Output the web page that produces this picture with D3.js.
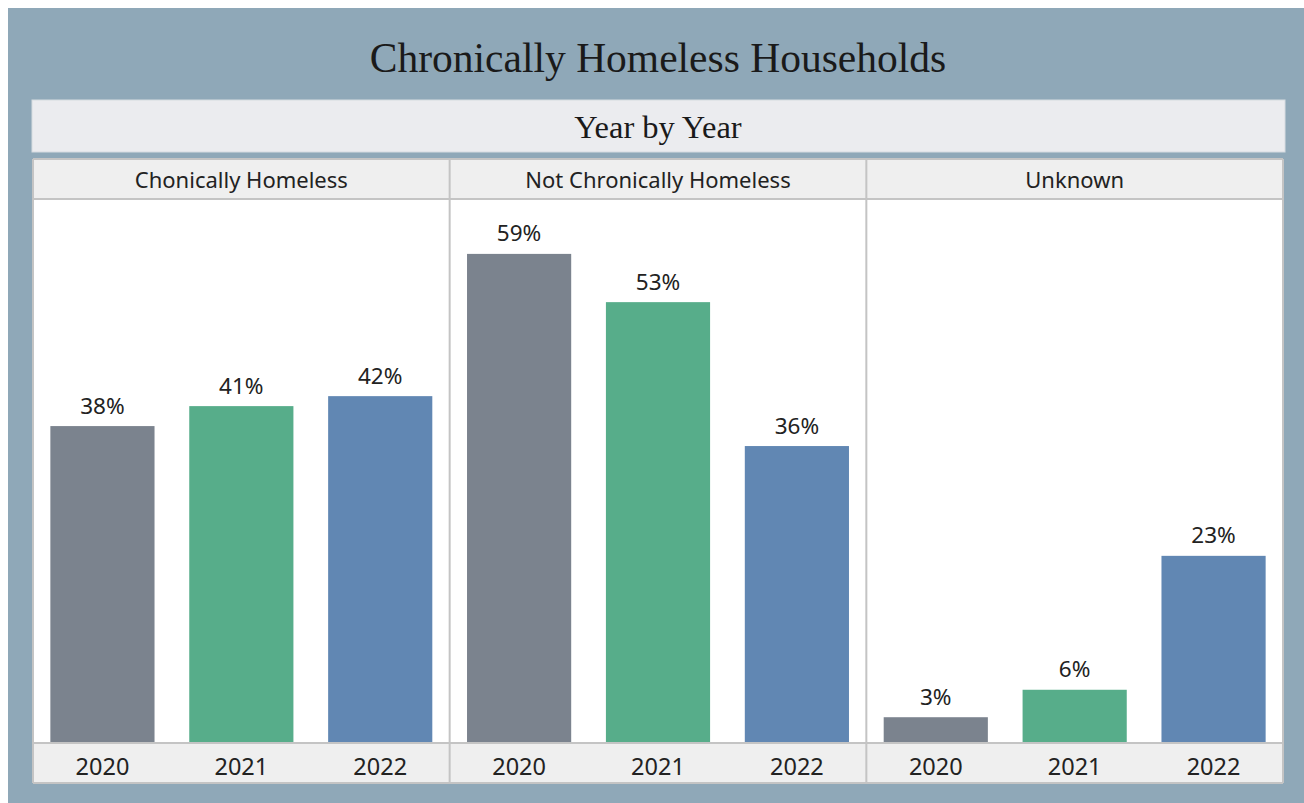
<!DOCTYPE html>
<html>
<head>
<meta charset="utf-8">
<script src="https://cdn.jsdelivr.net/npm/d3@7"></script>
<style>
  body { margin: 0; background: #fff; }
  svg { display: block; }
</style>
</head>
<body>
<svg width="1304" height="803"></svg>
<script>
var title = "Chronically Homeless Households";
var subtitle = "Year by Year";
var groups = ["Chonically Homeless", "Not Chronically Homeless", "Unknown"];
var years = ["2020", "2021", "2022"];
var colors = ["#7b838e", "#57ad8a", "#6187b3"];

// share of households per group, one array per year (percent)
var values2020 = [38.1, 58.8, 3.1];
var values2021 = [40.5, 53.0, 6.4];
var values2022 = [41.7, 35.7, 22.5];

var data = [];
groups.forEach(function(g, i) {
    data.push({group: g, year: "2020", value: values2020[i]});
    data.push({group: g, year: "2021", value: values2021[i]});
    data.push({group: g, year: "2022", value: values2022[i]});
});

var svg = d3.select("svg");

svg.append("rect")
    .attr("x", 8).attr("y", 8)
    .attr("width", 1296).attr("height", 795)
    .attr("fill", "#8fa8b8");

var serif = "'Palatino Linotype', 'Book Antiqua', 'Liberation Serif', serif";

svg.append("text")
    .attr("x", 658).attr("y", 72)
    .attr("text-anchor", "middle")
    .attr("font-family", serif)
    .attr("font-size", 41.5)
    .attr("fill", "#1a1a1a")
    .text(title);

svg.append("rect")
    .attr("x", 32).attr("y", 100)
    .attr("width", 1253).attr("height", 52)
    .attr("fill", "#ebecef")
    .attr("stroke", "#d6dbe0");

svg.append("text")
    .attr("x", 658).attr("y", 138)
    .attr("text-anchor", "middle")
    .attr("font-family", serif)
    .attr("font-size", 32.5)
    .attr("fill", "#1a1a1a")
    .text(subtitle);

var left = 33, right = 1283,
    headTop = 159, plotTop = 199, plotBottom = 743, axisBottom = 783;

var fx = d3.scaleBand()
    .domain(groups)
    .range([left, right]);

var x = d3.scaleBand()
    .domain(years)
    .range([0, fx.bandwidth()])
    .paddingInner(0.25)
    .paddingOuter(0.125);

var y = d3.scaleLinear()
    .domain([0, 65.4])
    .range([plotBottom, plotTop]);

var color = d3.scaleOrdinal().domain(years).range(colors);

var font = "'Segoe UI', 'Noto Sans', 'Open Sans', sans-serif";

// header strip, plot area, axis strip
svg.append("rect")
    .attr("x", left).attr("y", headTop)
    .attr("width", right - left).attr("height", plotTop - headTop)
    .attr("fill", "#efefef");
svg.append("rect")
    .attr("x", left).attr("y", plotTop)
    .attr("width", right - left).attr("height", plotBottom - plotTop)
    .attr("fill", "#ffffff");
svg.append("rect")
    .attr("x", left).attr("y", plotBottom)
    .attr("width", right - left).attr("height", axisBottom - plotBottom)
    .attr("fill", "#efefef");

var panel = svg.selectAll("g.panel")
    .data(groups)
    .enter().append("g")
    .attr("class", "panel")
    .attr("transform", function(d) { return "translate(" + fx(d) + ",0)"; });

panel.append("text")
    .attr("x", fx.bandwidth() / 2)
    .attr("y", 188)
    .attr("text-anchor", "middle")
    .attr("font-family", font)
    .attr("font-size", 22)
    .attr("fill", "#222")
    .text(function(d) { return d; });

panel.selectAll("rect.bar")
    .data(function(g) { return data.filter(function(d) { return d.group === g; }); })
    .enter().append("rect")
    .attr("class", "bar")
    .attr("x", function(d) { return x(d.year); })
    .attr("y", function(d) { return y(d.value); })
    .attr("width", x.bandwidth())
    .attr("height", function(d) { return y(0) - y(d.value); })
    .attr("fill", function(d) { return color(d.year); });

panel.selectAll("text.val")
    .data(function(g) { return data.filter(function(d) { return d.group === g; }); })
    .enter().append("text")
    .attr("class", "val")
    .attr("x", function(d) { return x(d.year) + x.bandwidth() / 2; })
    .attr("y", function(d) { return y(d.value) - 12.5; })
    .attr("text-anchor", "middle")
    .attr("font-family", font)
    .attr("font-size", 22.5)
    .attr("fill", "#222")
    .text(function(d) { return Math.round(d.value) + "%"; });

panel.append("g")
    .attr("transform", "translate(0," + plotBottom + ")")
    .call(d3.axisBottom(x).tickSize(0).tickPadding(0))
    .call(function(g) {
        g.select(".domain").remove();
        g.selectAll("text")
            .attr("dy", null)
            .attr("y", 32)
            .attr("font-family", font)
            .attr("font-size", 23.5)
            .attr("fill", "#222");
    });

// grid lines / borders
var lineColor = "#c4c4c4";
[headTop, plotTop, plotBottom, axisBottom].forEach(function(yy) {
    svg.append("line")
        .attr("x1", left).attr("x2", right)
        .attr("y1", yy).attr("y2", yy)
        .attr("stroke", lineColor).attr("stroke-width", 2);
});
var edges = [left, fx(groups[1]), fx(groups[2]), right];
edges.forEach(function(xx) {
    svg.append("line")
        .attr("x1", xx).attr("x2", xx)
        .attr("y1", headTop).attr("y2", axisBottom)
        .attr("stroke", lineColor).attr("stroke-width", 2);
});
</script>
</body>
</html>
